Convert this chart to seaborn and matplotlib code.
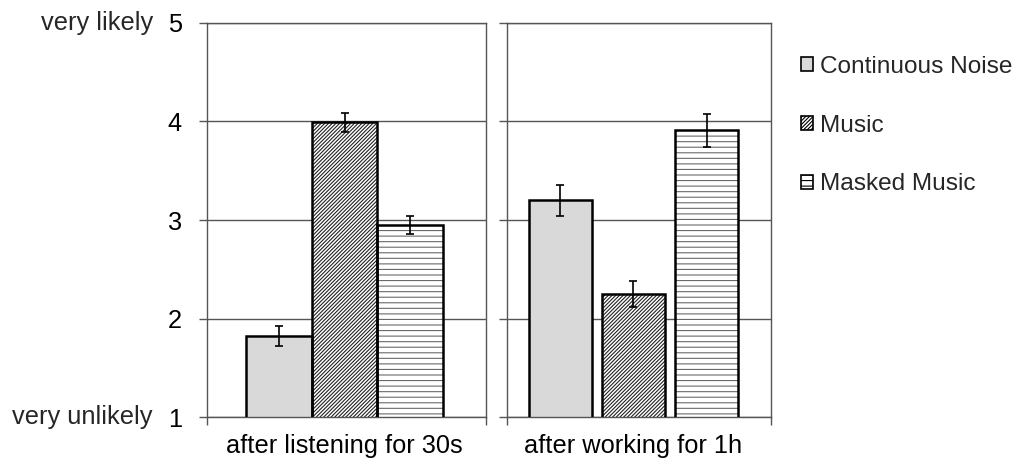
import pandas as pd
import matplotlib
matplotlib.use('Agg')
import matplotlib.pyplot as plt
import matplotlib.transforms as mtransforms
from matplotlib.patches import Rectangle, Patch
import seaborn as sns

# data
conditions = ['after listening for 30s', 'after working for 1h']
sounds = ['Continuous Noise', 'Music', 'Masked Music']
means_30s = [1.82, 3.99, 2.95]
errs_30s = [0.10, 0.10, 0.09]
means_1h = [3.20, 2.25, 3.91]
errs_1h = [0.16, 0.135, 0.17]
yticks = [1, 2, 3, 4, 5]

# look of each sound
faces = ['#d9d9d9', 'white', 'white']
hatches = ['', '/////////', '---']
hatch_colors = ['#d9d9d9', '#222222', '#6a6a6a']

FS = 18.3

sns.set_theme(style='white')
plt.rcParams['font.family'] = ['Liberation Sans', 'DejaVu Sans']
plt.rcParams['hatch.linewidth'] = 0.8

fig = plt.figure(figsize=(10.24, 4.61), dpi=100)
ax1 = fig.add_axes([207 / 1024, 44 / 461, 279 / 1024, 394 / 461])
ax2 = fig.add_axes([507 / 1024, 44 / 461, 264 / 1024, 394 / 461])

panels = [
    (ax1, conditions[0], means_30s, errs_30s, 0.706, 0.0, (-0.493, 0.507)),
    (ax2, conditions[1], means_1h, errs_1h, 0.831, 0.137, (-0.479, 0.521)),
]

for ax, cond, means, errs, width, gap, xlim in panels:
    df = pd.DataFrame({'condition': cond, 'sound': sounds, 'rating': means})
    sns.barplot(data=df, x='condition', y='rating', hue='sound', hue_order=sounds,
                palette=faces, width=width, gap=gap, errorbar=None, legend=False,
                ax=ax, zorder=2)
    centers = []
    for p, h, hc in zip(ax.patches[:3], hatches, hatch_colors):
        p.set_hatch(h)
        p.set_edgecolor(hc)
        p.set_linewidth(0)
        ax.add_patch(Rectangle(p.get_xy(), p.get_width(), p.get_height(),
                               fill=False, ec='black', lw=1.8, zorder=3))
        centers.append(p.get_x() + p.get_width() / 2)
    ax.errorbar(centers, means, yerr=errs, fmt='none', ecolor='black',
                elinewidth=1.2, capsize=3, capthick=1.2, zorder=4)

    ax.set_xlim(*xlim)
    ax.set_ylim(1, 5)
    ax.set_yticks(yticks)
    ax.yaxis.grid(True, color='#555555', lw=1.0, zorder=0)
    ax.set_axisbelow(True)
    ax.set_xlabel('')
    ax.set_ylabel('')
    ax.tick_params(axis='x', length=0, pad=12, labelsize=FS, colors='black')
    ax.tick_params(axis='y', which='major', left=True, length=6, width=1.0,
                   color='#555555', pad=12, labelsize=FS, labelcolor='black')
    ax.set_xticks(xlim, minor=True)
    ax.tick_params(axis='x', which='minor', bottom=True, length=6, width=1.0,
                   color='#555555', direction='out')
    for s in ax.spines.values():
        s.set_visible(True)
        s.set_color('#555555')
        s.set_linewidth(1.0)

ax2.set_yticklabels([])

# end labels of the rating scale
tr = mtransforms.blended_transform_factory(fig.transFigure, ax1.transData)
ax1.text(153 / 1024, 5, 'very likely', transform=tr, ha='right', va='center', fontsize=FS)
ax1.text(153 / 1024, 1, 'very unlikely', transform=tr, ha='right', va='center', fontsize=FS)

handles = [Patch(facecolor=f, hatch=h, edgecolor='black', linewidth=1.2)
           for f, h in zip(faces, hatches)]
fig.legend(handles, sounds, loc='upper left', bbox_to_anchor=(0.770, 0.905),
           frameon=False, fontsize=17.6, handlelength=0.5, handleheight=0.5,
           handletextpad=0.3, labelspacing=1.5, borderpad=0)

fig.savefig('out.png', dpi=100)
